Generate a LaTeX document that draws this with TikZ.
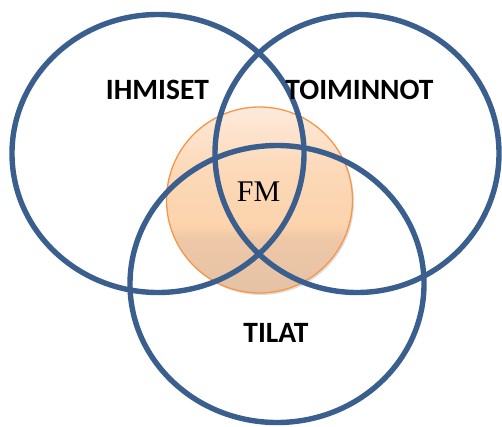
\documentclass[tikz,border=0pt]{standalone}
\usepackage{fontspec}
\setmainfont{Liberation Serif}
\newfontfamily\labelfont{Carlito}
\usetikzlibrary{shapes.geometric,shadows}

\definecolor{ringblue}{RGB}{58,95,142}
\definecolor{fmorange}{RGB}{247,150,70}
\definecolor{fmtop}{RGB}{253,234,219}
\definecolor{fmmid}{RGB}{252,211,172}
\definecolor{fmlow}{RGB}{238,200,167}
\definecolor{fmbot}{RGB}{229,194,165}

% peach fill: light at the top, darker tan towards the bottom
\pgfdeclareverticalshading{fmshade}{100bp}{%
  color(0bp)=(fmbot); color(25bp)=(fmbot); color(40bp)=(fmlow);
  color(43bp)=(fmmid); color(58bp)=(fmmid!75!fmtop); color(75bp)=(fmtop); color(100bp)=(fmtop)}

\tikzset{
  ring/.style={ellipse, draw=ringblue, line width=5.4pt, inner sep=0pt},
  core/.style={circle, draw=fmorange, line width=1.3pt, shading=fmshade,
    minimum size=186pt, inner sep=0pt,
    drop shadow={shadow xshift=1.5pt, shadow yshift=-2pt, opacity=0.22, fill=black!60}},
  setlabel/.style={anchor=base, inner sep=0pt, font=\labelfont\bfseries\fontsize{29.5}{31}\selectfont},
  corelabel/.style={anchor=base, inner sep=0pt, font=\fontsize{30}{32}\selectfont}
}

\begin{document}
\begin{tikzpicture}[x=1pt,y=-1pt]
\useasboundingbox (0,0) rectangle (502,426);

% central facility-management disc
\node[core] (fm) at (259.5,200) {};

% the three overlapping sets
\node[ring, minimum width=292pt, minimum height=278pt] (people)  at (158,153.5) {};
\node[ring, minimum width=284pt, minimum height=278pt] (actions) at (357,153.5) {};
\node[ring, minimum width=294pt, minimum height=277pt] (spaces)  at (277,284) {};

% labels
\node[setlabel] (peoplelabel)  at (157.5,99) {IHMISET};
\node[setlabel] (actionslabel) at (359.5,99) {TOIMINNOT};
\node[setlabel] (spaceslabel)  at (276,342) {TILAT};
\node[corelabel] (fmlabel)     at (258.5,201.5) {FM};
\end{tikzpicture}
\end{document}
